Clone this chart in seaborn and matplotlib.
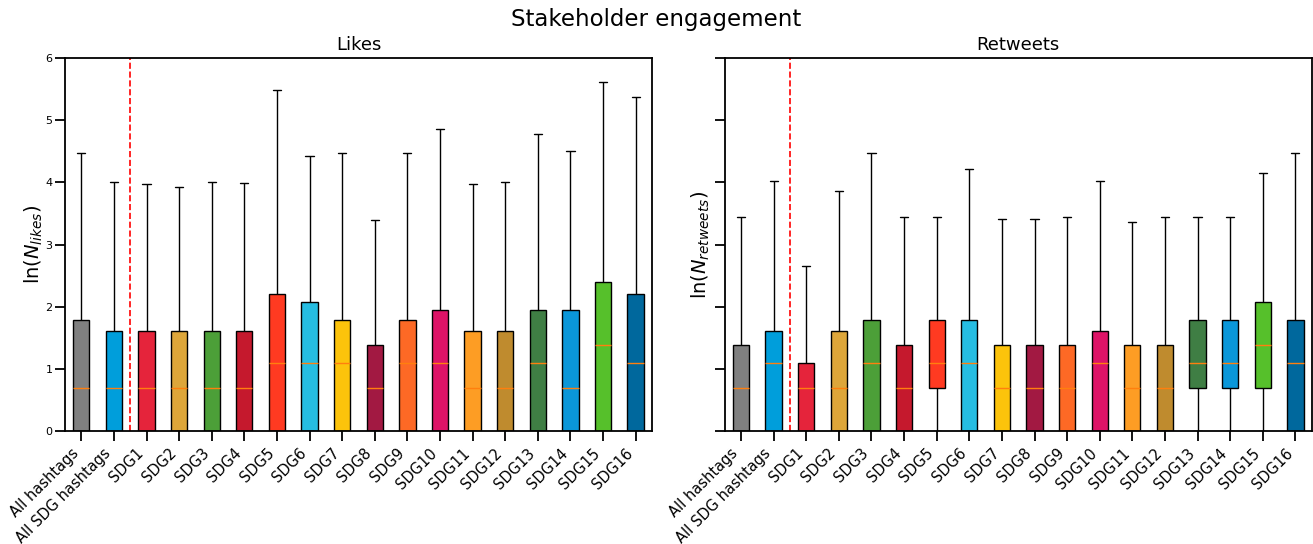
import numpy as np
import pandas as pd
import matplotlib
matplotlib.use("Agg")
import matplotlib.pyplot as plt
import seaborn as sns

categories = ["All hashtags", "All SDG hashtags", "SDG1", "SDG2", "SDG3", "SDG4",
              "SDG5", "SDG6", "SDG7", "SDG8", "SDG9", "SDG10", "SDG11", "SDG12",
              "SDG13", "SDG14", "SDG15", "SDG16"]

colors = ["#808080", "#009EDB", "#E5243B", "#DDA63A", "#4C9F38", "#C5192D",
          "#FF3A21", "#26BDE2", "#FCC30B", "#A21942", "#FD6925", "#DD1367",
          "#FD9D24", "#BF8B2E", "#3F7E44", "#0A97D9", "#56C02B", "#00689D"]

# five-number summaries (lower whisker, q1, median, q3, upper whisker), ln scale
likes_low = [0] * 18
likes_q1 = [0] * 18
likes_med = [0.69, 0.69, 0.69, 0.69, 0.69, 0.69, 1.10, 1.10, 1.10, 0.69,
             1.10, 1.10, 0.69, 0.69, 1.10, 0.69, 1.39, 1.10]
likes_q3 = [1.79, 1.61, 1.61, 1.61, 1.61, 1.61, 2.20, 2.08, 1.79, 1.39,
            1.79, 1.95, 1.61, 1.61, 1.95, 1.95, 2.40, 2.20]
likes_high = [4.48, 4.01, 3.97, 3.93, 4.01, 3.99, 5.49, 4.42, 4.47, 3.40,
              4.47, 4.86, 3.97, 4.01, 4.78, 4.50, 5.61, 5.38]

rt_low = [0] * 18
rt_q1 = [0, 0, 0, 0, 0, 0, 0.69, 0, 0, 0, 0, 0, 0, 0, 0.69, 0.69, 0.69, 0]
rt_med = [0.69, 1.10, 0.69, 0.69, 1.10, 0.69, 1.10, 1.10, 0.69, 0.69,
          0.69, 1.10, 0.69, 0.69, 1.10, 1.10, 1.39, 1.10]
rt_q3 = [1.39, 1.61, 1.10, 1.61, 1.79, 1.39, 1.79, 1.79, 1.39, 1.39,
         1.39, 1.61, 1.39, 1.39, 1.79, 1.79, 2.08, 1.79]
rt_high = [3.44, 4.02, 2.65, 3.86, 4.48, 3.44, 3.44, 4.22, 3.41, 3.41,
           3.44, 4.02, 3.37, 3.44, 3.44, 3.44, 4.15, 4.48]


def summary_frame(low, q1, med, q3, high):
    rows = []
    for i, cat in enumerate(categories):
        for v in (low[i], q1[i], med[i], q3[i], high[i]):
            rows.append({"category": cat, "value": v})
    return pd.DataFrame(rows)


sns.set_style("ticks", rc={"axes.edgecolor": "black", "text.color": "black",
                           "axes.labelcolor": "black", "xtick.color": "black",
                           "ytick.color": "black"})
plt.rcParams["font.family"] = ["DejaVu Sans"]

fig, axes = plt.subplots(1, 2, figsize=(13.13, 5.44), dpi=100)
fig.subplots_adjust(left=0.0495, right=0.999, bottom=0.208, top=0.893, wspace=0.124)

panels = [
    (axes[0], summary_frame(likes_low, likes_q1, likes_med, likes_q3, likes_high),
     "Likes", r"ln($N_{likes}$)"),
    (axes[1], summary_frame(rt_low, rt_q1, rt_med, rt_q3, rt_high),
     "Retweets", r"ln($N_{retweets}$)"),
]

for ax, df, title, ylabel in panels:
    sns.boxplot(data=df, x="category", y="value", hue="category",
                order=categories, hue_order=categories, palette=colors,
                saturation=1, width=0.5, whis=(0, 100), showfliers=False,
                linecolor="black", linewidth=1, legend=False, ax=ax,
                medianprops=dict(color="#ff7f0e", linewidth=1))
    ax.axvline(1.5, color="red", linestyle="--", linewidth=1.2)
    ax.set_title(title, fontsize=13)
    ax.set_ylabel(ylabel, fontsize=14, labelpad=0)
    ax.set_xlabel("")
    ax.set_ylim(0, 6)
    ax.set_xlim(-0.5, len(categories) - 0.5)
    ax.set_xticks(range(len(categories)))
    ax.set_xticklabels(categories, rotation=45, ha="right", fontsize=10.5)
    ax.tick_params(axis="both", length=7, width=1.3)
    ax.tick_params(axis="y", labelsize=8, pad=2)
    for s in ax.spines.values():
        s.set_visible(True)
        s.set_linewidth(1.3)

axes[1].tick_params(axis="y", labelleft=False)
axes[1].set_ylabel(r"ln($N_{retweets}$)", fontsize=14, labelpad=2)

fig.suptitle("Stakeholder engagement", fontsize=16.5, y=0.985)
fig.savefig("out.png", dpi=100)
